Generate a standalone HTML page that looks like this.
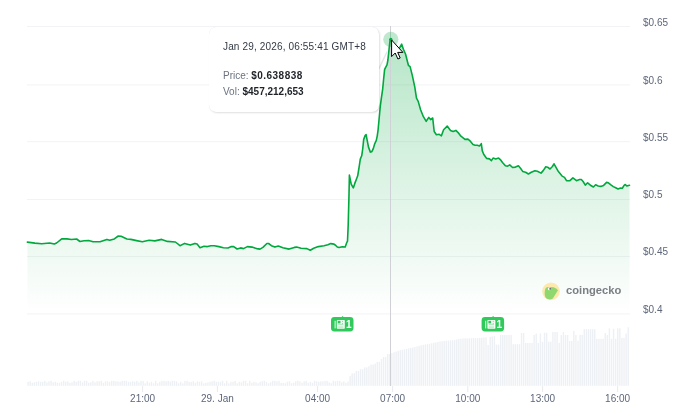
<!DOCTYPE html>
<html><head><meta charset="utf-8"><style>
html,body{margin:0;padding:0;background:#fff;}
body{width:700px;height:416px;overflow:hidden;position:relative;font-family:"Liberation Sans",Arial,sans-serif;}
svg{position:absolute;left:0;top:0;}
.tt{position:absolute;left:209px;top:27px;width:170px;height:85px;box-sizing:border-box;background:#fff;border-radius:7px;
 box-shadow:1px 1px 2px rgba(0,0,0,0.13),0 0 0.6px rgba(0,0,0,0.12);font-size:10px;color:#333a45;}
.tt .d{position:absolute;left:14px;top:13.5px;white-space:nowrap;letter-spacing:0.15px;}
.tt .p{position:absolute;left:14px;top:42.5px;white-space:nowrap;color:#6b7280;}
.tt .v{position:absolute;left:14px;top:58.5px;white-space:nowrap;color:#6b7280;}
.tt b{color:#1f2328;}
</style></head><body>
<svg width="700" height="416" viewBox="0 0 700 416" font-family="Liberation Sans, Arial, sans-serif">
<defs>
<linearGradient id="fg" x1="0" y1="39" x2="0" y2="313.5" gradientUnits="userSpaceOnUse">
<stop offset="0" stop-color="#00a83e" stop-opacity="0.285"/>
<stop offset="1" stop-color="#00a83e" stop-opacity="0.0"/>
</linearGradient>
</defs>
<g fill="#f2f3f6"><rect x="27" y="26" width="603" height="1"/>
<rect x="27" y="84.4" width="603" height="1"/>
<rect x="27" y="141.2" width="603" height="1"/>
<rect x="27" y="199" width="603" height="1"/>
<rect x="27" y="256" width="603" height="1"/>
<rect x="27" y="313.4" width="603" height="1"/></g>
<g fill="#edf0f4"><rect x="27.40" y="381.8" width="1.39" height="4.0"/>
<rect x="29.49" y="381.3" width="1.39" height="4.5"/>
<rect x="31.58" y="382.8" width="1.39" height="3.0"/>
<rect x="33.67" y="382.3" width="1.39" height="3.5"/>
<rect x="35.76" y="381.8" width="1.39" height="4.0"/>
<rect x="37.85" y="381.3" width="1.39" height="4.5"/>
<rect x="39.95" y="381.8" width="1.39" height="4.0"/>
<rect x="42.04" y="381.8" width="1.39" height="4.0"/>
<rect x="44.13" y="380.8" width="1.39" height="5.0"/>
<rect x="46.22" y="382.3" width="1.39" height="3.5"/>
<rect x="48.31" y="381.3" width="1.39" height="4.5"/>
<rect x="50.40" y="380.8" width="1.39" height="5.0"/>
<rect x="52.49" y="382.3" width="1.39" height="3.5"/>
<rect x="54.58" y="381.8" width="1.39" height="4.0"/>
<rect x="56.67" y="382.8" width="1.39" height="3.0"/>
<rect x="58.76" y="382.8" width="1.39" height="3.0"/>
<rect x="60.86" y="381.8" width="1.39" height="4.0"/>
<rect x="62.95" y="380.8" width="1.39" height="5.0"/>
<rect x="65.04" y="381.8" width="1.39" height="4.0"/>
<rect x="67.13" y="381.3" width="1.39" height="4.5"/>
<rect x="69.22" y="382.8" width="1.39" height="3.0"/>
<rect x="71.31" y="382.3" width="1.39" height="3.5"/>
<rect x="73.40" y="380.8" width="1.39" height="5.0"/>
<rect x="75.49" y="381.8" width="1.39" height="4.0"/>
<rect x="77.58" y="380.8" width="1.39" height="5.0"/>
<rect x="79.67" y="380.8" width="1.39" height="5.0"/>
<rect x="81.77" y="382.3" width="1.39" height="3.5"/>
<rect x="83.86" y="380.8" width="1.39" height="5.0"/>
<rect x="85.95" y="380.8" width="1.39" height="5.0"/>
<rect x="88.04" y="382.8" width="1.39" height="3.0"/>
<rect x="90.13" y="382.3" width="1.39" height="3.5"/>
<rect x="92.22" y="380.8" width="1.39" height="5.0"/>
<rect x="94.31" y="382.3" width="1.39" height="3.5"/>
<rect x="96.40" y="381.3" width="1.39" height="4.5"/>
<rect x="98.49" y="381.3" width="1.39" height="4.5"/>
<rect x="100.58" y="380.8" width="1.39" height="5.0"/>
<rect x="102.68" y="382.8" width="1.39" height="3.0"/>
<rect x="104.77" y="381.3" width="1.39" height="4.5"/>
<rect x="106.86" y="381.3" width="1.39" height="4.5"/>
<rect x="108.95" y="381.8" width="1.39" height="4.0"/>
<rect x="111.04" y="380.8" width="1.39" height="5.0"/>
<rect x="113.13" y="380.8" width="1.39" height="5.0"/>
<rect x="115.22" y="381.3" width="1.39" height="4.5"/>
<rect x="117.31" y="381.3" width="1.39" height="4.5"/>
<rect x="119.40" y="381.8" width="1.39" height="4.0"/>
<rect x="121.49" y="380.8" width="1.39" height="5.0"/>
<rect x="123.58" y="380.8" width="1.39" height="5.0"/>
<rect x="125.68" y="380.8" width="1.39" height="5.0"/>
<rect x="127.77" y="381.8" width="1.39" height="4.0"/>
<rect x="129.86" y="381.8" width="1.39" height="4.0"/>
<rect x="131.95" y="381.3" width="1.39" height="4.5"/>
<rect x="134.04" y="381.8" width="1.39" height="4.0"/>
<rect x="136.13" y="380.8" width="1.39" height="5.0"/>
<rect x="138.22" y="382.3" width="1.39" height="3.5"/>
<rect x="140.31" y="380.8" width="1.39" height="5.0"/>
<rect x="142.40" y="380.8" width="1.39" height="5.0"/>
<rect x="144.49" y="383.3" width="1.39" height="2.5"/>
<rect x="146.59" y="381.3" width="1.39" height="4.5"/>
<rect x="148.68" y="382.8" width="1.39" height="3.0"/>
<rect x="150.77" y="381.8" width="1.39" height="4.0"/>
<rect x="152.86" y="383.3" width="1.39" height="2.5"/>
<rect x="154.95" y="380.8" width="1.39" height="5.0"/>
<rect x="157.04" y="383.3" width="1.39" height="2.5"/>
<rect x="159.13" y="381.8" width="1.39" height="4.0"/>
<rect x="161.22" y="380.8" width="1.39" height="5.0"/>
<rect x="163.31" y="380.8" width="1.39" height="5.0"/>
<rect x="165.40" y="381.3" width="1.39" height="4.5"/>
<rect x="167.50" y="380.8" width="1.39" height="5.0"/>
<rect x="169.59" y="381.8" width="1.39" height="4.0"/>
<rect x="171.68" y="380.8" width="1.39" height="5.0"/>
<rect x="173.77" y="380.8" width="1.39" height="5.0"/>
<rect x="175.86" y="381.3" width="1.39" height="4.5"/>
<rect x="177.95" y="383.3" width="1.39" height="2.5"/>
<rect x="180.04" y="381.8" width="1.39" height="4.0"/>
<rect x="182.13" y="383.3" width="1.39" height="2.5"/>
<rect x="184.22" y="380.8" width="1.39" height="5.0"/>
<rect x="186.31" y="380.8" width="1.39" height="5.0"/>
<rect x="188.40" y="381.8" width="1.39" height="4.0"/>
<rect x="190.50" y="381.8" width="1.39" height="4.0"/>
<rect x="192.59" y="381.3" width="1.39" height="4.5"/>
<rect x="194.68" y="382.8" width="1.39" height="3.0"/>
<rect x="196.77" y="381.3" width="1.39" height="4.5"/>
<rect x="198.86" y="381.8" width="1.39" height="4.0"/>
<rect x="200.95" y="381.3" width="1.39" height="4.5"/>
<rect x="203.04" y="383.3" width="1.39" height="2.5"/>
<rect x="205.13" y="382.8" width="1.39" height="3.0"/>
<rect x="207.22" y="382.3" width="1.39" height="3.5"/>
<rect x="209.31" y="381.8" width="1.39" height="4.0"/>
<rect x="211.41" y="381.3" width="1.39" height="4.5"/>
<rect x="213.50" y="380.8" width="1.39" height="5.0"/>
<rect x="215.59" y="381.8" width="1.39" height="4.0"/>
<rect x="217.68" y="381.8" width="1.39" height="4.0"/>
<rect x="219.77" y="381.8" width="1.39" height="4.0"/>
<rect x="221.86" y="380.8" width="1.39" height="5.0"/>
<rect x="223.95" y="383.3" width="1.39" height="2.5"/>
<rect x="226.04" y="380.8" width="1.39" height="5.0"/>
<rect x="228.13" y="383.3" width="1.39" height="2.5"/>
<rect x="230.22" y="381.8" width="1.39" height="4.0"/>
<rect x="232.32" y="381.8" width="1.39" height="4.0"/>
<rect x="234.41" y="380.8" width="1.39" height="5.0"/>
<rect x="236.50" y="383.3" width="1.39" height="2.5"/>
<rect x="238.59" y="381.8" width="1.39" height="4.0"/>
<rect x="240.68" y="382.3" width="1.39" height="3.5"/>
<rect x="242.77" y="380.8" width="1.39" height="5.0"/>
<rect x="244.86" y="380.8" width="1.39" height="5.0"/>
<rect x="246.95" y="383.3" width="1.39" height="2.5"/>
<rect x="249.04" y="380.8" width="1.39" height="5.0"/>
<rect x="251.13" y="382.8" width="1.39" height="3.0"/>
<rect x="253.22" y="381.8" width="1.39" height="4.0"/>
<rect x="255.32" y="382.3" width="1.39" height="3.5"/>
<rect x="257.41" y="383.3" width="1.39" height="2.5"/>
<rect x="259.50" y="381.8" width="1.39" height="4.0"/>
<rect x="261.59" y="381.3" width="1.39" height="4.5"/>
<rect x="263.68" y="380.8" width="1.39" height="5.0"/>
<rect x="265.77" y="381.8" width="1.39" height="4.0"/>
<rect x="267.86" y="383.3" width="1.39" height="2.5"/>
<rect x="269.95" y="382.3" width="1.39" height="3.5"/>
<rect x="272.04" y="380.8" width="1.39" height="5.0"/>
<rect x="274.13" y="380.8" width="1.39" height="5.0"/>
<rect x="276.23" y="381.3" width="1.39" height="4.5"/>
<rect x="278.32" y="380.8" width="1.39" height="5.0"/>
<rect x="280.41" y="382.8" width="1.39" height="3.0"/>
<rect x="282.50" y="382.8" width="1.39" height="3.0"/>
<rect x="284.59" y="383.3" width="1.39" height="2.5"/>
<rect x="286.68" y="381.8" width="1.39" height="4.0"/>
<rect x="288.77" y="381.3" width="1.39" height="4.5"/>
<rect x="290.86" y="383.3" width="1.39" height="2.5"/>
<rect x="292.95" y="382.8" width="1.39" height="3.0"/>
<rect x="295.04" y="381.3" width="1.39" height="4.5"/>
<rect x="297.14" y="380.8" width="1.39" height="5.0"/>
<rect x="299.23" y="381.3" width="1.39" height="4.5"/>
<rect x="301.32" y="382.8" width="1.39" height="3.0"/>
<rect x="303.41" y="381.3" width="1.39" height="4.5"/>
<rect x="305.50" y="380.8" width="1.39" height="5.0"/>
<rect x="307.59" y="382.8" width="1.39" height="3.0"/>
<rect x="309.68" y="381.8" width="1.39" height="4.0"/>
<rect x="311.77" y="382.8" width="1.39" height="3.0"/>
<rect x="313.86" y="380.8" width="1.39" height="5.0"/>
<rect x="315.95" y="381.3" width="1.39" height="4.5"/>
<rect x="318.05" y="381.8" width="1.39" height="4.0"/>
<rect x="320.14" y="381.3" width="1.39" height="4.5"/>
<rect x="322.23" y="381.3" width="1.39" height="4.5"/>
<rect x="324.32" y="380.8" width="1.39" height="5.0"/>
<rect x="326.41" y="380.8" width="1.39" height="5.0"/>
<rect x="328.50" y="382.3" width="1.39" height="3.5"/>
<rect x="330.59" y="383.3" width="1.39" height="2.5"/>
<rect x="332.68" y="380.8" width="1.39" height="5.0"/>
<rect x="334.77" y="381.3" width="1.39" height="4.5"/>
<rect x="336.86" y="380.8" width="1.39" height="5.0"/>
<rect x="338.95" y="380.8" width="1.39" height="5.0"/>
<rect x="341.05" y="382.3" width="1.39" height="3.5"/>
<rect x="343.14" y="381.3" width="1.39" height="4.5"/>
<rect x="345.23" y="382.8" width="1.39" height="3.0"/>
<rect x="347.32" y="381.5" width="1.39" height="4.3"/>
<rect x="349.41" y="376.0" width="1.39" height="9.8"/>
<rect x="351.50" y="373.3" width="1.39" height="12.5"/>
<rect x="353.59" y="373.3" width="1.39" height="12.5"/>
<rect x="355.68" y="371.0" width="1.39" height="14.8"/>
<rect x="357.77" y="371.0" width="1.39" height="14.8"/>
<rect x="359.86" y="369.2" width="1.39" height="16.6"/>
<rect x="361.96" y="369.2" width="1.39" height="16.6"/>
<rect x="364.05" y="367.4" width="1.39" height="18.4"/>
<rect x="366.14" y="367.4" width="1.39" height="18.4"/>
<rect x="368.23" y="366.3" width="1.39" height="19.5"/>
<rect x="370.32" y="364.6" width="1.39" height="21.2"/>
<rect x="372.41" y="364.6" width="1.39" height="21.2"/>
<rect x="374.50" y="363.7" width="1.39" height="22.1"/>
<rect x="376.59" y="361.9" width="1.39" height="23.9"/>
<rect x="378.68" y="361.9" width="1.39" height="23.9"/>
<rect x="380.77" y="359.1" width="1.39" height="26.7"/>
<rect x="382.87" y="356.9" width="1.39" height="28.9"/>
<rect x="384.96" y="356.9" width="1.39" height="28.9"/>
<rect x="387.05" y="354.1" width="1.39" height="31.7"/>
<rect x="389.14" y="354.0" width="1.39" height="31.8"/>
<rect x="391.23" y="353.1" width="1.39" height="32.7"/>
<rect x="393.32" y="352.2" width="1.39" height="33.6"/>
<rect x="395.41" y="351.5" width="1.39" height="34.3"/>
<rect x="397.50" y="350.8" width="1.39" height="35.0"/>
<rect x="399.59" y="350.1" width="1.39" height="35.7"/>
<rect x="401.68" y="349.7" width="1.39" height="36.1"/>
<rect x="403.77" y="349.4" width="1.39" height="36.4"/>
<rect x="405.87" y="349.0" width="1.39" height="36.8"/>
<rect x="407.96" y="348.4" width="1.39" height="37.4"/>
<rect x="410.05" y="347.9" width="1.39" height="37.9"/>
<rect x="412.14" y="347.5" width="1.39" height="38.3"/>
<rect x="414.23" y="347.0" width="1.39" height="38.8"/>
<rect x="416.32" y="346.4" width="1.39" height="39.4"/>
<rect x="418.41" y="345.8" width="1.39" height="40.0"/>
<rect x="420.50" y="345.3" width="1.39" height="40.5"/>
<rect x="422.59" y="344.9" width="1.39" height="40.9"/>
<rect x="424.68" y="344.5" width="1.39" height="41.3"/>
<rect x="426.78" y="344.1" width="1.39" height="41.7"/>
<rect x="428.87" y="343.7" width="1.39" height="42.1"/>
<rect x="430.96" y="343.3" width="1.39" height="42.5"/>
<rect x="433.05" y="342.8" width="1.39" height="43.0"/>
<rect x="435.14" y="342.3" width="1.39" height="43.5"/>
<rect x="437.23" y="341.9" width="1.39" height="43.9"/>
<rect x="439.32" y="341.5" width="1.39" height="44.3"/>
<rect x="441.41" y="341.2" width="1.39" height="44.6"/>
<rect x="443.50" y="341.0" width="1.39" height="44.8"/>
<rect x="445.59" y="340.7" width="1.39" height="45.1"/>
<rect x="447.69" y="340.6" width="1.39" height="45.2"/>
<rect x="449.78" y="340.4" width="1.39" height="45.4"/>
<rect x="451.87" y="340.2" width="1.39" height="45.6"/>
<rect x="453.96" y="340.0" width="1.39" height="45.8"/>
<rect x="456.05" y="339.5" width="1.39" height="46.3"/>
<rect x="458.14" y="339.0" width="1.39" height="46.8"/>
<rect x="460.23" y="338.7" width="1.39" height="47.1"/>
<rect x="462.32" y="338.4" width="1.39" height="47.4"/>
<rect x="464.41" y="338.3" width="1.39" height="47.5"/>
<rect x="466.50" y="338.3" width="1.39" height="47.5"/>
<rect x="468.60" y="338.3" width="1.39" height="47.5"/>
<rect x="470.69" y="338.2" width="1.39" height="47.6"/>
<rect x="472.78" y="338.1" width="1.39" height="47.7"/>
<rect x="474.87" y="338.1" width="1.39" height="47.7"/>
<rect x="476.96" y="338.0" width="1.39" height="47.8"/>
<rect x="479.05" y="337.9" width="1.39" height="47.9"/>
<rect x="481.14" y="337.7" width="1.39" height="48.1"/>
<rect x="483.23" y="337.5" width="1.39" height="48.3"/>
<rect x="485.32" y="337.3" width="1.39" height="48.5"/>
<rect x="487.41" y="345.0" width="1.39" height="40.8"/>
<rect x="489.50" y="336.8" width="1.39" height="49.0"/>
<rect x="491.60" y="336.5" width="1.39" height="49.3"/>
<rect x="493.69" y="336.2" width="1.39" height="49.6"/>
<rect x="495.78" y="344.6" width="1.39" height="41.2"/>
<rect x="497.87" y="344.6" width="1.39" height="41.2"/>
<rect x="499.96" y="335.0" width="1.39" height="50.8"/>
<rect x="502.05" y="335.0" width="1.39" height="50.8"/>
<rect x="504.14" y="335.0" width="1.39" height="50.8"/>
<rect x="506.23" y="335.0" width="1.39" height="50.8"/>
<rect x="508.32" y="335.0" width="1.39" height="50.8"/>
<rect x="510.41" y="335.0" width="1.39" height="50.8"/>
<rect x="512.51" y="344.2" width="1.39" height="41.6"/>
<rect x="514.60" y="344.2" width="1.39" height="41.6"/>
<rect x="516.69" y="344.2" width="1.39" height="41.6"/>
<rect x="518.78" y="344.2" width="1.39" height="41.6"/>
<rect x="520.87" y="333.0" width="1.39" height="52.8"/>
<rect x="522.96" y="333.0" width="1.39" height="52.8"/>
<rect x="525.05" y="343.0" width="1.39" height="42.8"/>
<rect x="527.14" y="343.0" width="1.39" height="42.8"/>
<rect x="529.23" y="343.0" width="1.39" height="42.8"/>
<rect x="531.32" y="343.0" width="1.39" height="42.8"/>
<rect x="533.42" y="335.0" width="1.39" height="50.8"/>
<rect x="535.51" y="333.5" width="1.39" height="52.3"/>
<rect x="537.60" y="343.0" width="1.39" height="42.8"/>
<rect x="539.69" y="333.5" width="1.39" height="52.3"/>
<rect x="541.78" y="341.7" width="1.39" height="44.1"/>
<rect x="543.87" y="332.7" width="1.39" height="53.1"/>
<rect x="545.96" y="332.7" width="1.39" height="53.1"/>
<rect x="548.05" y="341.7" width="1.39" height="44.1"/>
<rect x="550.14" y="341.7" width="1.39" height="44.1"/>
<rect x="552.23" y="332.0" width="1.39" height="53.8"/>
<rect x="554.32" y="332.0" width="1.39" height="53.8"/>
<rect x="556.42" y="332.0" width="1.39" height="53.8"/>
<rect x="558.51" y="343.0" width="1.39" height="42.8"/>
<rect x="560.60" y="335.0" width="1.39" height="50.8"/>
<rect x="562.69" y="332.0" width="1.39" height="53.8"/>
<rect x="564.78" y="335.0" width="1.39" height="50.8"/>
<rect x="566.87" y="335.0" width="1.39" height="50.8"/>
<rect x="568.96" y="341.0" width="1.39" height="44.8"/>
<rect x="571.05" y="341.0" width="1.39" height="44.8"/>
<rect x="573.14" y="331.0" width="1.39" height="54.8"/>
<rect x="575.23" y="335.0" width="1.39" height="50.8"/>
<rect x="577.33" y="340.8" width="1.39" height="45.0"/>
<rect x="579.42" y="335.0" width="1.39" height="50.8"/>
<rect x="581.51" y="335.0" width="1.39" height="50.8"/>
<rect x="583.60" y="329.2" width="1.39" height="56.6"/>
<rect x="585.69" y="329.2" width="1.39" height="56.6"/>
<rect x="587.78" y="329.2" width="1.39" height="56.6"/>
<rect x="589.87" y="329.2" width="1.39" height="56.6"/>
<rect x="591.96" y="329.2" width="1.39" height="56.6"/>
<rect x="594.05" y="329.2" width="1.39" height="56.6"/>
<rect x="596.14" y="338.8" width="1.39" height="47.0"/>
<rect x="598.24" y="338.8" width="1.39" height="47.0"/>
<rect x="600.33" y="338.8" width="1.39" height="47.0"/>
<rect x="602.42" y="338.8" width="1.39" height="47.0"/>
<rect x="604.51" y="333.0" width="1.39" height="52.8"/>
<rect x="606.60" y="335.0" width="1.39" height="50.8"/>
<rect x="608.69" y="328.3" width="1.39" height="57.5"/>
<rect x="610.78" y="338.8" width="1.39" height="47.0"/>
<rect x="612.87" y="328.8" width="1.39" height="57.0"/>
<rect x="614.96" y="338.8" width="1.39" height="47.0"/>
<rect x="617.05" y="328.3" width="1.39" height="57.5"/>
<rect x="619.15" y="328.3" width="1.39" height="57.5"/>
<rect x="621.24" y="337.9" width="1.39" height="47.9"/>
<rect x="623.33" y="337.9" width="1.39" height="47.9"/>
<rect x="625.42" y="333.5" width="1.39" height="52.3"/>
<rect x="627.51" y="327.3" width="1.39" height="58.5"/></g>
<path d="M27.4 242.1 L34.9 243.1 L41.7 243.7 L49.7 243.0 L54.3 244.0 L56.6 243.0 L61.7 238.9 L66.9 238.9 L71.4 239.5 L76.6 239.0 L80.0 241.5 L84.0 240.8 L88.6 240.6 L93.1 241.8 L100.0 241.7 L106.9 239.4 L109.7 240.3 L114.3 238.9 L118.3 236.0 L121.1 236.3 L126.9 239.0 L130.9 239.4 L136.6 240.6 L142.3 241.7 L149.1 240.3 L154.9 240.9 L161.7 239.4 L167.4 241.4 L175.4 242.0 L180.0 245.7 L184.6 243.4 L190.3 245.1 L194.9 243.4 L197.1 244.0 L200.0 247.7 L204.0 246.3 L207.4 246.6 L210.9 245.7 L214.3 245.7 L218.9 246.6 L223.4 247.7 L228.0 248.0 L231.4 246.6 L233.7 246.6 L237.1 249.0 L240.6 247.9 L243.4 248.6 L247.4 246.6 L252.0 247.1 L256.6 248.6 L260.0 249.1 L262.9 247.4 L266.9 243.5 L268.6 243.5 L271.4 245.7 L274.9 247.1 L278.3 246.0 L282.9 247.7 L289.1 249.1 L294.3 247.4 L296.6 247.1 L301.1 248.3 L306.9 248.6 L310.3 250.3 L313.7 248.3 L318.3 246.6 L324.0 245.7 L327.9 244.8 L330.8 243.6 L334.0 244.1 L335.8 245.5 L337.3 247.0 L339.1 247.5 L342.3 246.8 L345.2 247.0 L346.6 243.0 L347.5 241.2 L347.9 232.2 L348.2 225.0 L349.0 195.0 L349.4 175.1 L351.2 184.1 L353.3 187.9 L354.8 183.4 L356.6 178.7 L357.7 175.8 L358.4 171.5 L359.1 167.2 L360.3 159.1 L361.7 155.8 L362.7 149.0 L363.7 139.4 L365.1 135.6 L366.1 134.6 L367.0 139.4 L368.5 147.1 L370.4 152.1 L371.8 151.7 L373.3 148.6 L374.7 143.8 L376.3 140.4 L377.3 135.6 L378.1 129.8 L380.3 106.0 L381.2 99.4 L382.7 88.8 L383.6 79.2 L384.6 69.6 L385.5 67.7 L387.0 64.8 L387.9 60.0 L388.7 52.5 L389.4 46.0 L390.2 39.4 L391.0 39.0 L395.5 53.0 L399.5 48.0 L401.7 44.2 L403.4 49.3 L405.6 54.3 L407.3 61.0 L408.4 65.3 L410.1 66.6 L412.3 75.4 L414.8 87.1 L416.5 98.1 L418.2 101.4 L420.6 109.8 L423.4 116.7 L426.2 121.3 L428.8 117.4 L430.6 119.6 L432.7 118.0 L434.2 131.5 L436.4 134.7 L439.2 134.3 L441.4 135.8 L443.6 129.7 L447.2 126.1 L450.5 130.4 L453.1 131.5 L455.9 130.4 L458.1 132.6 L460.9 136.2 L462.2 137.2 L465.0 139.4 L467.9 139.1 L470.1 140.9 L473.0 144.5 L475.1 145.2 L477.3 145.2 L479.5 145.9 L481.3 143.7 L482.3 150.9 L483.8 154.5 L486.7 158.4 L489.5 158.9 L491.4 160.6 L493.1 158.1 L495.7 158.9 L498.6 158.1 L500.3 159.6 L502.5 162.5 L505.4 165.8 L507.6 166.1 L509.7 164.9 L512.6 167.5 L515.5 167.1 L518.4 165.8 L520.5 168.2 L522.7 171.4 L525.6 172.3 L528.4 174.0 L531.3 172.3 L534.9 170.7 L537.4 171.3 L541.0 173.1 L543.4 170.4 L545.8 166.8 L547.6 167.2 L550.0 169.0 L552.4 166.5 L554.0 163.8 L556.0 167.4 L558.4 171.6 L562.1 176.1 L564.5 177.4 L566.5 180.7 L569.9 180.7 L572.9 177.9 L576.5 180.7 L579.5 179.5 L581.3 179.5 L583.1 181.5 L585.3 185.1 L587.6 182.8 L590.4 185.2 L593.4 187.0 L595.6 184.8 L598.2 186.0 L600.6 186.4 L603.6 185.4 L606.6 182.4 L608.4 182.8 L610.9 184.8 L613.3 186.6 L615.7 187.8 L618.1 189.0 L620.5 188.1 L622.3 188.2 L624.1 185.4 L625.3 184.5 L626.8 186.0 L629.5 185.2 L629.5 313.5 L27.4 313.5 Z" fill="url(#fg)"/>
<g fill="#e8eaee"><rect x="142.1" y="386" width="1" height="6"/>
<rect x="216.9" y="386" width="1" height="6"/>
<rect x="317.1" y="386" width="1" height="6"/>
<rect x="392.1" y="386" width="1" height="6"/>
<rect x="467.3" y="386" width="1" height="6"/>
<rect x="542.1" y="386" width="1" height="6"/>
<rect x="617.1" y="386" width="1" height="6"/></g>
<g fill="#5d6679" font-size="10"><text x="142.6" y="402.2" text-anchor="middle">21:00</text>
<text x="217.4" y="402.2" text-anchor="middle">29. Jan</text>
<text x="317.6" y="402.2" text-anchor="middle">04:00</text>
<text x="392.6" y="402.2" text-anchor="middle">07:00</text>
<text x="467.8" y="402.2" text-anchor="middle">10:00</text>
<text x="542.6" y="402.2" text-anchor="middle">13:00</text>
<text x="617.6" y="402.2" text-anchor="middle">16:00</text></g>
<g fill="#5d6679" font-size="10"><text x="643" y="26.0">$0.65</text>
<text x="643" y="84.1">$0.6</text>
<text x="643" y="140.9">$0.55</text>
<text x="643" y="197.9">$0.5</text>
<text x="643" y="255.0">$0.45</text>
<text x="643" y="312.9">$0.4</text></g>
<rect x="390" y="26" width="1" height="360" fill="#cfd1d6"/>
<path d="M27.4 242.1 L34.9 243.1 L41.7 243.7 L49.7 243.0 L54.3 244.0 L56.6 243.0 L61.7 238.9 L66.9 238.9 L71.4 239.5 L76.6 239.0 L80.0 241.5 L84.0 240.8 L88.6 240.6 L93.1 241.8 L100.0 241.7 L106.9 239.4 L109.7 240.3 L114.3 238.9 L118.3 236.0 L121.1 236.3 L126.9 239.0 L130.9 239.4 L136.6 240.6 L142.3 241.7 L149.1 240.3 L154.9 240.9 L161.7 239.4 L167.4 241.4 L175.4 242.0 L180.0 245.7 L184.6 243.4 L190.3 245.1 L194.9 243.4 L197.1 244.0 L200.0 247.7 L204.0 246.3 L207.4 246.6 L210.9 245.7 L214.3 245.7 L218.9 246.6 L223.4 247.7 L228.0 248.0 L231.4 246.6 L233.7 246.6 L237.1 249.0 L240.6 247.9 L243.4 248.6 L247.4 246.6 L252.0 247.1 L256.6 248.6 L260.0 249.1 L262.9 247.4 L266.9 243.5 L268.6 243.5 L271.4 245.7 L274.9 247.1 L278.3 246.0 L282.9 247.7 L289.1 249.1 L294.3 247.4 L296.6 247.1 L301.1 248.3 L306.9 248.6 L310.3 250.3 L313.7 248.3 L318.3 246.6 L324.0 245.7 L327.9 244.8 L330.8 243.6 L334.0 244.1 L335.8 245.5 L337.3 247.0 L339.1 247.5 L342.3 246.8 L345.2 247.0 L346.6 243.0 L347.5 241.2 L347.9 232.2 L348.2 225.0 L349.0 195.0 L349.4 175.1 L351.2 184.1 L353.3 187.9 L354.8 183.4 L356.6 178.7 L357.7 175.8 L358.4 171.5 L359.1 167.2 L360.3 159.1 L361.7 155.8 L362.7 149.0 L363.7 139.4 L365.1 135.6 L366.1 134.6 L367.0 139.4 L368.5 147.1 L370.4 152.1 L371.8 151.7 L373.3 148.6 L374.7 143.8 L376.3 140.4 L377.3 135.6 L378.1 129.8 L380.3 106.0 L381.2 99.4 L382.7 88.8 L383.6 79.2 L384.6 69.6 L385.5 67.7 L387.0 64.8 L387.9 60.0 L388.7 52.5 L389.4 46.0 L390.2 39.4 L391.0 39.0 L395.5 53.0 L399.5 48.0 L401.7 44.2 L403.4 49.3 L405.6 54.3 L407.3 61.0 L408.4 65.3 L410.1 66.6 L412.3 75.4 L414.8 87.1 L416.5 98.1 L418.2 101.4 L420.6 109.8 L423.4 116.7 L426.2 121.3 L428.8 117.4 L430.6 119.6 L432.7 118.0 L434.2 131.5 L436.4 134.7 L439.2 134.3 L441.4 135.8 L443.6 129.7 L447.2 126.1 L450.5 130.4 L453.1 131.5 L455.9 130.4 L458.1 132.6 L460.9 136.2 L462.2 137.2 L465.0 139.4 L467.9 139.1 L470.1 140.9 L473.0 144.5 L475.1 145.2 L477.3 145.2 L479.5 145.9 L481.3 143.7 L482.3 150.9 L483.8 154.5 L486.7 158.4 L489.5 158.9 L491.4 160.6 L493.1 158.1 L495.7 158.9 L498.6 158.1 L500.3 159.6 L502.5 162.5 L505.4 165.8 L507.6 166.1 L509.7 164.9 L512.6 167.5 L515.5 167.1 L518.4 165.8 L520.5 168.2 L522.7 171.4 L525.6 172.3 L528.4 174.0 L531.3 172.3 L534.9 170.7 L537.4 171.3 L541.0 173.1 L543.4 170.4 L545.8 166.8 L547.6 167.2 L550.0 169.0 L552.4 166.5 L554.0 163.8 L556.0 167.4 L558.4 171.6 L562.1 176.1 L564.5 177.4 L566.5 180.7 L569.9 180.7 L572.9 177.9 L576.5 180.7 L579.5 179.5 L581.3 179.5 L583.1 181.5 L585.3 185.1 L587.6 182.8 L590.4 185.2 L593.4 187.0 L595.6 184.8 L598.2 186.0 L600.6 186.4 L603.6 185.4 L606.6 182.4 L608.4 182.8 L610.9 184.8 L613.3 186.6 L615.7 187.8 L618.1 189.0 L620.5 188.1 L622.3 188.2 L624.1 185.4 L625.3 184.5 L626.8 186.0 L629.5 185.2" fill="none" stroke="#00a83e" stroke-width="1.6" stroke-linejoin="round" stroke-linecap="round"/>
<circle cx="390.8" cy="39.3" r="7.6" fill="#00a83e" fill-opacity="0.25"/>
<circle cx="390.8" cy="39.3" r="1.6" fill="#00a83e"/>
<g transform="translate(331,317)">
<path d="M10.3 0.2 L11.5 -1 L12.7 0.2 Z" fill="#3cc764"/>
<rect x="0" y="0" width="22.5" height="14.5" rx="3.4" fill="#30c95b"/>
<rect x="3.6" y="3.8" width="1" height="7.6" fill="#eafaf0"/>
<rect x="5.8" y="3.1" width="8" height="8.6" rx="0.6" fill="#f6fcf4"/>
<rect x="6.8" y="3.8" width="2.7" height="2.6" fill="#33c45e"/>
<circle cx="11.6" cy="4.3" r="0.55" fill="#5cc9a0"/>
<circle cx="11.6" cy="6.3" r="0.55" fill="#5cc9a0"/>
<rect x="7.2" y="7.3" width="5.2" height="0.9" fill="#98dfb1"/>
<rect x="7.2" y="9.6" width="5.2" height="0.9" fill="#98dfb1"/>
<text x="17.75" y="11.1" fill="#ffffff" font-size="10" font-weight="bold" text-anchor="middle">1</text>
</g>
<g transform="translate(481.6,317)">
<path d="M10.3 0.2 L11.5 -1 L12.7 0.2 Z" fill="#3cc764"/>
<rect x="0" y="0" width="22.5" height="14.5" rx="3.4" fill="#30c95b"/>
<rect x="3.6" y="3.8" width="1" height="7.6" fill="#eafaf0"/>
<rect x="5.8" y="3.1" width="8" height="8.6" rx="0.6" fill="#f6fcf4"/>
<rect x="6.8" y="3.8" width="2.7" height="2.6" fill="#33c45e"/>
<circle cx="11.6" cy="4.3" r="0.55" fill="#5cc9a0"/>
<circle cx="11.6" cy="6.3" r="0.55" fill="#5cc9a0"/>
<rect x="7.2" y="7.3" width="5.2" height="0.9" fill="#98dfb1"/>
<rect x="7.2" y="9.6" width="5.2" height="0.9" fill="#98dfb1"/>
<text x="17.75" y="11.1" fill="#ffffff" font-size="10" font-weight="bold" text-anchor="middle">1</text>
</g>
<g transform="translate(551,291.2)">
<circle r="8.8" fill="#fce9ab"/>
<path d="M-5.6 -2.4 C-5.2 -4 -3.6 -4.3 -1 -4.3 L2.6 -4 C4.6 -3.2 6.2 -2.2 7 -1 L1.8 7.4 C0.8 8.3 -2.6 8.8 -5 6.8 C-6.6 5 -6.6 0 -5.6 -2.4 Z" fill="#8fd870"/>
<circle cx="-1.8" cy="-2.3" r="1.4" fill="#fff"/>
<circle cx="-0.9" cy="-2.3" r="0.8" fill="#4a4060"/>
</g>
<text x="566" y="293.6" font-size="11.2" font-weight="bold" fill="#7b7e83">coingecko</text>
<path d="M378.8 69 L387.2 51.5" stroke="#e4e5e8" stroke-width="1.4"/>
</svg>
<div class="tt">
<div class="d">Jan 29, 2026, 06:55:41 GMT+8</div>
<div class="p">Price: <b style="letter-spacing:0.45px">$0.638838</b></div>
<div class="v">Vol: <b>$457,212,653</b></div>
</div>
<svg width="700" height="416" viewBox="0 0 700 416" style="position:absolute;left:0;top:0">
<path d="M391.6 40 L391.6 56.6 L395.2 53 L397.9 59 L400.2 58 L397.7 52.4 L402.9 52.4 Z" fill="#fff" stroke="#000" stroke-width="1" stroke-linejoin="miter"/>
</svg>
</body></html>
